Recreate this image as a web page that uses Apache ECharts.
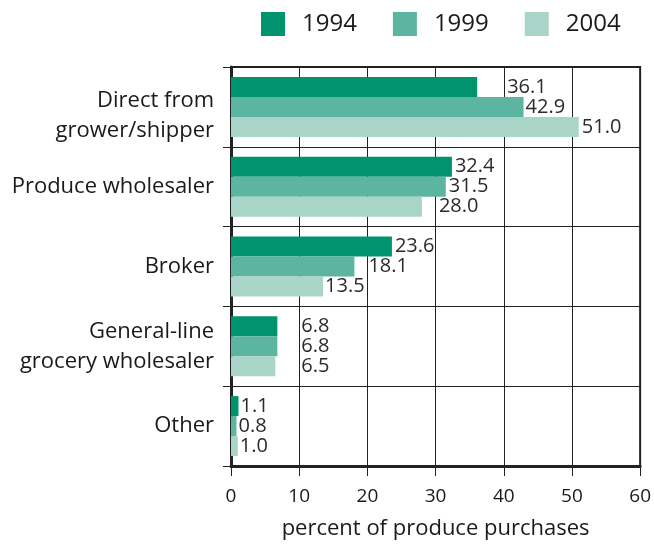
<!DOCTYPE html>
<html>
<head>
<meta charset="utf-8">
<script src="https://cdn.jsdelivr.net/npm/echarts@6/dist/echarts.min.js"></script>
<style>
html,body{margin:0;padding:0;background:#fff;}
#chart{width:654px;height:545px;}
</style>
</head>
<body>
<div id="chart"></div>
<script>
// ---- data ----
var categories = ['Direct from\ngrower/shipper', 'Produce wholesaler', 'Broker', 'General-line\ngrocery wholesaler', 'Other'];
var seriesNames = ['1994', '1999', '2004'];
var values1994 = [36.1, 32.4, 23.6, 6.8, 1.1];
var values1999 = [42.9, 31.5, 18.1, 6.8, 0.8];
var values2004 = [51.0, 28.0, 13.5, 6.5, 1.0];
var xTicks = [0, 10, 20, 30, 40, 50, 60];

// ---- styling (label gaps per bar, pixels; category label top spacer) ----
var labelGaps = [
  [30, 3, 3, 24, 2],
  [2, 3, 14, 24, 2],
  [3, 17, 2, 26, 2]
];
var categoryTopPad = [true, false, false, false, false];
var colors = ['#00936e', '#5bb5a0', '#a9d5c8'];
var FONT = '"Open Sans", "Noto Sans", sans-serif';

var allValues = [values1994, values1999, values2004];

var chart = echarts.init(document.getElementById('chart'), null, {renderer: 'canvas'});

var series = seriesNames.map(function (name, si) {
  return {
    name: name,
    type: 'bar',
    barWidth: 20,
    barGap: '0%',
    itemStyle: {color: colors[si]},
    data: allValues[si].map(function (v, ci) {
      return {
        value: v,
        label: {distance: labelGaps[si][ci]}
      };
    }),
    label: {
      show: true,
      position: 'right',
      color: '#2b2b2b',
      fontFamily: FONT,
      fontSize: 20,
      formatter: function (p) { return p.value.toFixed(1); }
    }
  };
});

var option = {
  animation: false,
  backgroundColor: '#ffffff',
  color: colors,
  legend: {
    data: seriesNames,
    left: 261,
    top: 12,
    padding: 0,
    itemWidth: 24,
    itemHeight: 24,
    itemGap: 36,
    icon: 'rect',
    textStyle: {
      fontFamily: FONT,
      fontSize: 24,
      color: '#1a1a1a',
      padding: [0, 0, 0, 12]
    }
  },
  grid: {
    left: 231,
    right: 11,
    top: 67,
    bottom: 77,
    show: true,
    borderColor: '#222',
    borderWidth: 2,
    containLabel: false
  },
  xAxis: {
    type: 'value',
    min: xTicks[0],
    max: xTicks[xTicks.length - 1],
    interval: 10,
    name: 'percent of produce purchases',
    nameLocation: 'middle',
    nameGap: 52,
    nameTextStyle: {fontFamily: FONT, fontSize: 22, color: '#1a1a1a'},
    axisLine: {show: true, lineStyle: {color: '#222', width: 3}},
    axisTick: {show: true, length: 10, lineStyle: {color: '#222', width: 1}},
    axisLabel: {fontFamily: FONT, fontSize: 19, color: '#1a1a1a', margin: 21},
    splitLine: {show: true, lineStyle: {color: '#222', width: 1}}
  },
  yAxis: {
    type: 'category',
    data: categories,
    inverse: true,
    axisLine: {show: true, lineStyle: {color: '#222', width: 3}},
    axisTick: {show: true, length: 8, lineStyle: {color: '#222', width: 1}},
    axisLabel: {
      fontFamily: FONT, fontSize: 22, color: '#1a1a1a', margin: 17, lineHeight: 30, align: 'right',
      formatter: function (v, i) {
        return categoryTopPad[i] ? '{sp| }\n' + v : v;
      },
      rich: {
        sp: {fontSize: 1, lineHeight: 18}
      }
    },
    splitLine: {show: true, lineStyle: {color: '#222', width: 1}}
  },
  series: series
};

chart.setOption(option);
</script>
</body>
</html>
